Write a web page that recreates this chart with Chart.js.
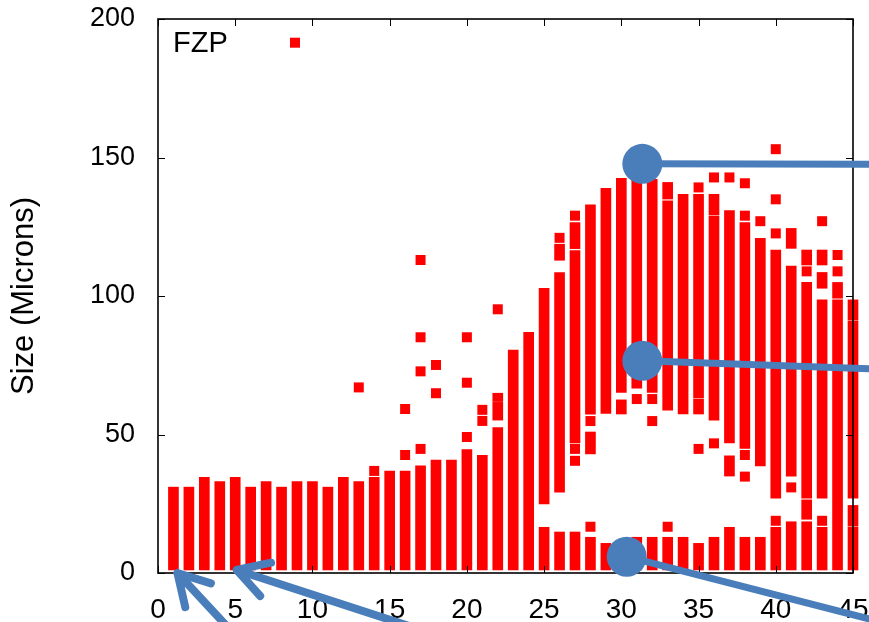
<!DOCTYPE html>
<html>
<head>
<meta charset="utf-8">
<script src="https://cdn.jsdelivr.net/npm/chart.js@4.4.1/dist/chart.umd.min.js"></script>
<style>
html,body{margin:0;padding:0;background:#ffffff;}
#wrap{width:869px;height:622px;}
</style>
</head>
<body>
<div id="wrap"><canvas id="c" width="869" height="622"></canvas></div>
<script>
// ---- data ----
const seriesLabel = 'FZP';
const axisTitle = 'Size (Microns)';
const xTickValues = [0, 5, 10, 15, 20, 25, 30, 35, 40, 45];
const yTickValues = [0, 50, 100, 150, 200];

// Base column of each position: from the floor up to its top
const columnX = [1,2,3,4,5,6,7,8,9,10,11,12,13,14,15,16,17,18,19,20,21,22,23,24,25,26,27,28,29,30,31,32,33,34,35,36,37,38,39,40,41,42,43,44,45];
const columnTop = [31,31,34.5,33,34.5,31,33,31,33,33,31,34.5,33,34.5,36.8,36.8,38.7,40.8,40.8,44.6,42.5,52.5,80.5,86.9,16.5,14.8,14.8,12.9,10.7,10.7,12.9,12.9,12.9,12.9,10.7,12.9,16.5,12.9,12.9,16.5,18.5,18.5,16.5,98.6,16.5];
const columnFloor = 1.1;

// Detached bands (dense runs of points) above the base column
const bandX    = [22,   22,   25,   26,   26,    27,  27,    28,   28,   29,   30,   30,   31,   32,   33,   33,  34,   35,   35,   36,   36,    37,  37,   38,  39,   40,  41,  41,    42,   42,  42,    43,  43,    43,    44,   45,   45,  45];
const bandLow  = [55.2, 61.9, 24.9, 29.2, 112.9, 47,  117.1, 57.3, 43,   57.6, 65.2, 57.4, 66.7, 65.2, 58.8, 135, 57.4, 63.2, 57.4, 55.2, 129.2, 47,  35,   45,  38.7, 27,  35,  117.2, 19.4, 27,  111.2, 27,  102.8, 111.2, 99.2, 16.9, 27,  91.4];
const bandHigh = [61.6, 64.9, 102.8,108.5,118.7, 116.4,126.5, 132.9,50.9, 138.9,142.5,62.5, 143.5,142.1,134.4,141, 136.7,136.7,62.8, 128.8,136.7, 130.8,42.3, 126.5,120.8,116.6,110.8,124.4, 26.4, 104.9,116.6, 98.6,108.5, 116.6, 104.9,24.4, 91,  98.6];

// Isolated points
const dotX = [13, 14,    16,   16,   17,   17,   17,   17,  18,   18,   20,   20,   20,   21,   21,   22,   26,  27,  27,   27,   28,   28,    31,   32,   32,    33,   35,    35,   36,    36,   37,    38,    38,  38,   38,   39,  40,  40,    40,    40,    41,   42,    43,  43,    44,    44];
const dotY = [67, 36.85, 42.6, 59.2, 44.8, 72.8, 85.1, 113, 64.9, 75.1, 49.1, 68.7, 85.1, 54.9, 58.9, 95.2, 121, 129, 44.8, 40.5, 16.7, 54.85, 62.8, 62.8, 54.85, 16.7, 139.2, 44.8, 142.8, 46.8, 142.8, 140.7, 129, 42.6, 34.8, 127, 153, 134.9, 122.6, 18.85, 30.9, 108.9, 127, 18.85, 108.9, 114.8];

// Blue call-outs drawn over the chart (data coordinates)
const calloutCircles = [
  {x: 31.36, y: 147.7},
  {x: 31.36, y: 76.6},
  {x: 30.35, y: 5.9}
];
const calloutLines = [
  {x1: 31.36, y1: 147.7, x2: 46.75, y2: 147.6},
  {x1: 31.36, y1: 76.6,  x2: 46.75, y2: 73.6},
  {x1: 30.35, y1: 5.9,   x2: 46.68, y2: -17.5}
];
const calloutArrows = [
  {tipX: 1.26, tipY: 0,   tailX: 4.69,  tailY: -20.6},
  {tipX: 5.10, tipY: 1.1, tailX: 17.06, tailY: -20.6}
];

// ---- build library data ----
const barData = [];
columnX.forEach((x, i) => barData.push({x: x, y: [columnFloor, columnTop[i]]}));
bandX.forEach((x, i) => barData.push({x: x, y: [bandLow[i], bandHigh[i]]}));
const dotData = dotX.map((x, i) => ({x: x, y: dotY[i]}));

const RED = '#ff0000';
const BLUE = '#4a7ebb';
const FONT = "'Liberation Sans', Arial, sans-serif";

const frameAndCallouts = {
  id: 'frameAndCallouts',
  afterDatasetsDraw(chart) {
    const {ctx, chartArea: a, scales: {x, y}} = chart;
    ctx.save();
    ctx.strokeStyle = '#000';
    ctx.lineWidth = 1;
    ctx.beginPath();
    x.ticks.forEach(t => {
      const px = Math.round(x.getPixelForValue(t.value)) + 0.5;
      ctx.moveTo(px, a.bottom); ctx.lineTo(px, a.bottom - 7);
      ctx.moveTo(px, a.top); ctx.lineTo(px, a.top + 7);
    });
    y.ticks.forEach(t => {
      const py = Math.round(y.getPixelForValue(t.value)) + 0.5;
      ctx.moveTo(a.left, py); ctx.lineTo(a.left + 7, py);
      ctx.moveTo(a.right, py); ctx.lineTo(a.right - 7, py);
    });
    ctx.stroke();
    ctx.lineWidth = 1.6;
    ctx.strokeRect(a.left, a.top, a.right - a.left, a.bottom - a.top);
    ctx.restore();
  },
  afterDraw(chart) {
    const {ctx, chartArea: a, scales: {x, y}} = chart;
    ctx.save();
    // key: label then sample square
    ctx.fillStyle = '#000';
    ctx.font = "29px " + FONT;
    ctx.textBaseline = 'alphabetic';
    ctx.textAlign = 'left';
    ctx.fillText(seriesLabel, a.left + 15, a.top + 32.7);
    ctx.fillStyle = RED;
    ctx.fillRect(a.left + 132, a.top + 18.7, 10, 10);

    // call-outs
    ctx.strokeStyle = BLUE;
    ctx.fillStyle = BLUE;
    ctx.lineWidth = 7;
    ctx.lineCap = 'butt';
    calloutLines.forEach(l => {
      ctx.beginPath();
      ctx.moveTo(x.getPixelForValue(l.x1), y.getPixelForValue(l.y1));
      ctx.lineTo(x.getPixelForValue(l.x2), y.getPixelForValue(l.y2));
      ctx.stroke();
    });
    calloutCircles.forEach(c => {
      ctx.beginPath();
      ctx.arc(x.getPixelForValue(c.x), y.getPixelForValue(c.y), 20, 0, Math.PI * 2);
      ctx.fill();
    });
    ctx.lineWidth = 8;
    ctx.lineCap = 'round';
    ctx.lineJoin = 'round';
    calloutArrows.forEach(ar => {
      const tx = x.getPixelForValue(ar.tipX), ty = y.getPixelForValue(ar.tipY);
      const sx = x.getPixelForValue(ar.tailX), sy = y.getPixelForValue(ar.tailY);
      const ang = Math.atan2(sy - ty, sx - tx);
      const L = 35, spread = Math.PI / 6;
      ctx.beginPath();
      ctx.moveTo(sx, sy); ctx.lineTo(tx, ty);
      ctx.moveTo(tx + L * Math.cos(ang - spread), ty + L * Math.sin(ang - spread));
      ctx.lineTo(tx, ty);
      ctx.lineTo(tx + L * Math.cos(ang + spread), ty + L * Math.sin(ang + spread));
      ctx.stroke();
    });
    ctx.restore();
  }
};

new Chart(document.getElementById('c'), {
  type: 'bar',
  data: {
    datasets: [
      {
        type: 'bar',
        label: seriesLabel,
        data: barData,
        backgroundColor: RED,
        borderWidth: 0,
        barThickness: 10,
        grouped: false,
        clip: false
      },
      {
        type: 'scatter',
        label: seriesLabel,
        data: dotData,
        pointStyle: 'rect',
        pointRadius: 7.07,
        pointBackgroundColor: RED,
        pointBorderWidth: 0,
        showLine: false,
        clip: false
      }
    ]
  },
  options: {
    responsive: false,
    animation: false,
    events: [],
    layout: {padding: {top: 19, right: 16, left: 0, bottom: 0}},
    plugins: {legend: {display: false}, tooltip: {enabled: false}},
    scales: {
      x: {
        type: 'linear',
        min: 0, max: 45,
        offset: false,
        grid: {display: false, drawTicks: false, offset: false},
        border: {display: false},
        afterBuildTicks(s) { s.ticks = xTickValues.map(v => ({value: v})); },
        ticks: {color: '#000', padding: 20, maxRotation: 0, autoSkip: false,
                font: {family: FONT, size: 28}},
        afterFit(s) { s.height = 49; s.paddingLeft = 0; s.paddingRight = 0; }
      },
      y: {
        type: 'linear',
        min: 0, max: 200,
        grid: {display: false, drawTicks: false},
        border: {display: false},
        afterBuildTicks(s) { s.ticks = yTickValues.map(v => ({value: v})); },
        ticks: {color: '#000', padding: 23, font: {family: FONT, size: 27}},
        title: {display: true, text: axisTitle, color: '#000',
                font: {family: FONT, size: 31}, padding: {top: 6, bottom: 0}},
        afterFit(s) { s.width = 158; s.paddingTop = 0; s.paddingBottom = 0; }
      }
    }
  },
  plugins: [frameAndCallouts]
});
</script>
</body>
</html>
